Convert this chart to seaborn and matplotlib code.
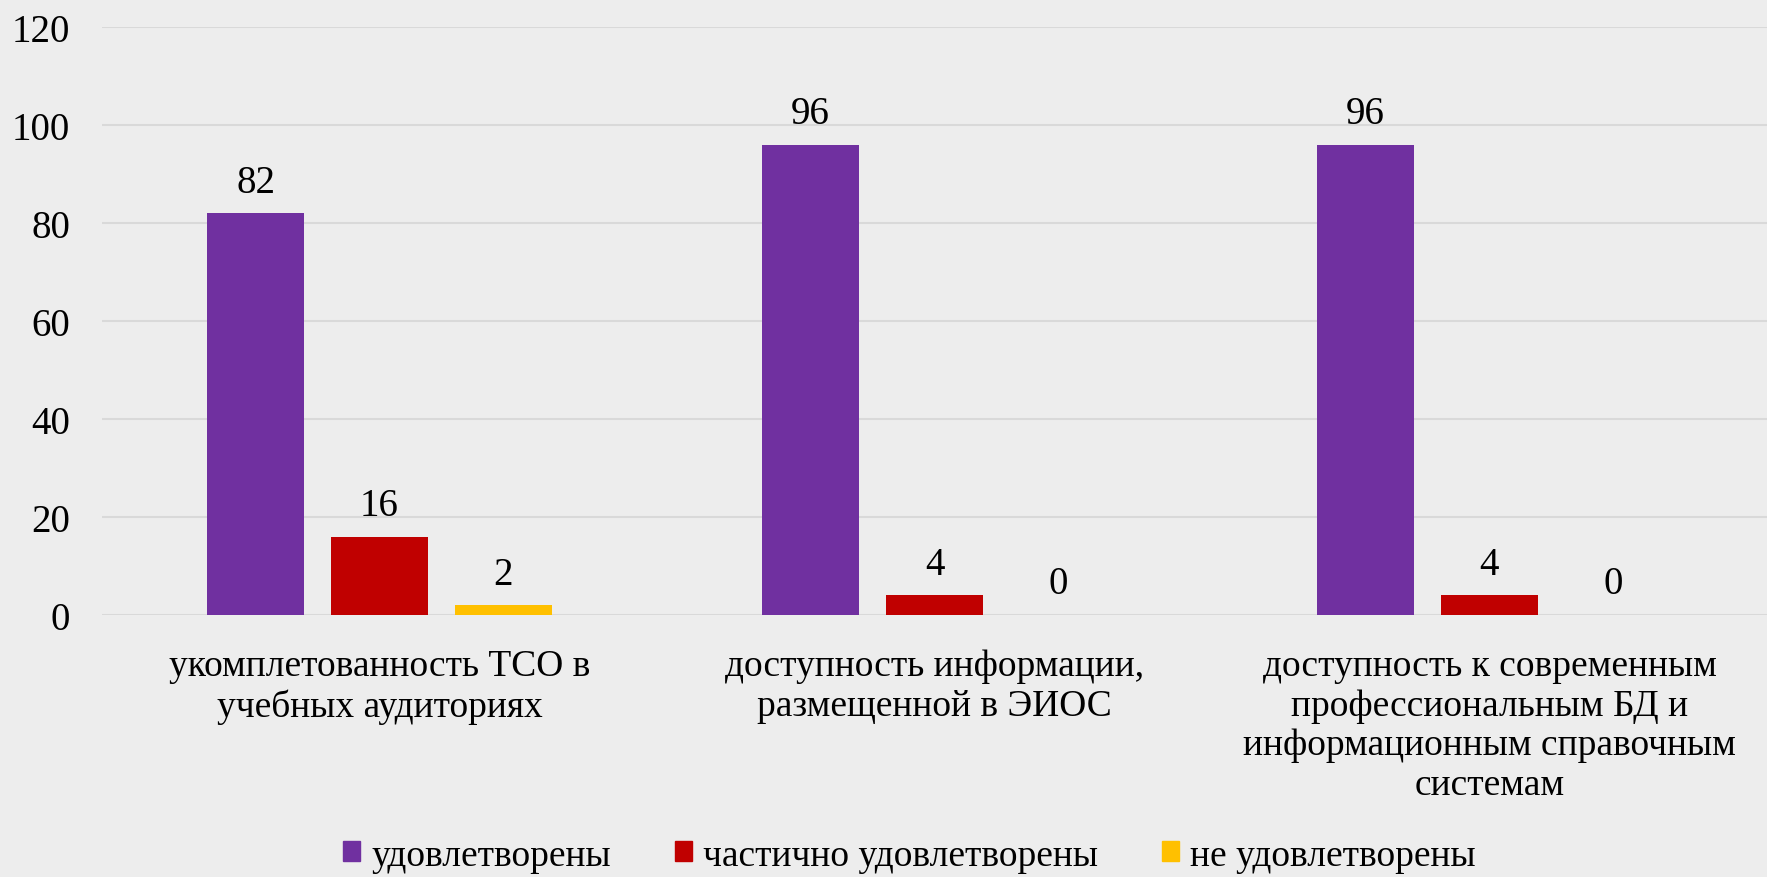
import numpy as np
import pandas as pd
import matplotlib
matplotlib.use('Agg')
import matplotlib.pyplot as plt
import seaborn as sns

categories = ['укомплетованность ТСО в\nучебных аудиториях',
              'доступность информации,\nразмещенной в ЭИОС',
              'доступность к современным\nпрофессиональным БД и\nинформационным справочным\nсистемам']
series = ['удовлетворены', 'частично удовлетворены', 'не удовлетворены']
satisfied = [82, 96, 96]
partly = [16, 4, 4]
not_satisfied = [2, 0, 0]
colors = ['#7030A0', '#C00000', '#FFC000']
yticks = [0, 20, 40, 60, 80, 100, 120]

rows = []
for name, vals in zip(series, [satisfied, partly, not_satisfied]):
    for c, v in zip(categories, vals):
        rows.append({'category': c, 'group': name, 'value': v})
df = pd.DataFrame(rows)

bg = '#EDEDED'
sns.set_style('white')
plt.rcParams['font.family'] = ['Liberation Serif', 'DejaVu Serif']
plt.rcParams['text.color'] = 'black'
plt.rcParams['xtick.color'] = 'black'
plt.rcParams['ytick.color'] = 'black'

fig = plt.figure(figsize=(17.67, 8.78), dpi=100, facecolor=bg)
ax = fig.add_axes([102/1767, 1-616/878, 1-102/1767, 588/878])
ax.set_facecolor(bg)

sns.barplot(data=df, x='category', y='value', hue='group', order=categories,
            hue_order=series, palette=colors, width=0.67, gap=0.217,
            saturation=1, linewidth=0, ax=ax, legend=False)

for cont in ax.containers:
    ax.bar_label(cont, fontsize=28, padding=9)

ax.set_ylim(0, 120)
ax.set_xlim(-0.5, 2.5)
ax.set_yticks(yticks)
ax.yaxis.grid(True, color='#D9D9D9', lw=1.5)
ax.set_axisbelow(True)
for s in ax.spines.values():
    s.set_visible(False)
ax.tick_params(axis='y', length=0, pad=23, labelsize=28)
ax.tick_params(axis='x', length=0, pad=24, labelsize=27)
for t in ax.get_xticklabels():
    t.set_linespacing(1.2)
ax.set_xlabel('')
ax.set_ylabel('')

handles = [plt.Rectangle((0, 0), 1, 1, color=c) for c in colors]
ax.legend(handles, series, loc='center', bbox_to_anchor=(0.485, -0.409),
          ncol=3, frameon=False, fontsize=27, handlelength=0.45, handleheight=0.45,
          handletextpad=0.3, columnspacing=1.7)

fig.savefig('out.png', dpi=100, facecolor=bg)
